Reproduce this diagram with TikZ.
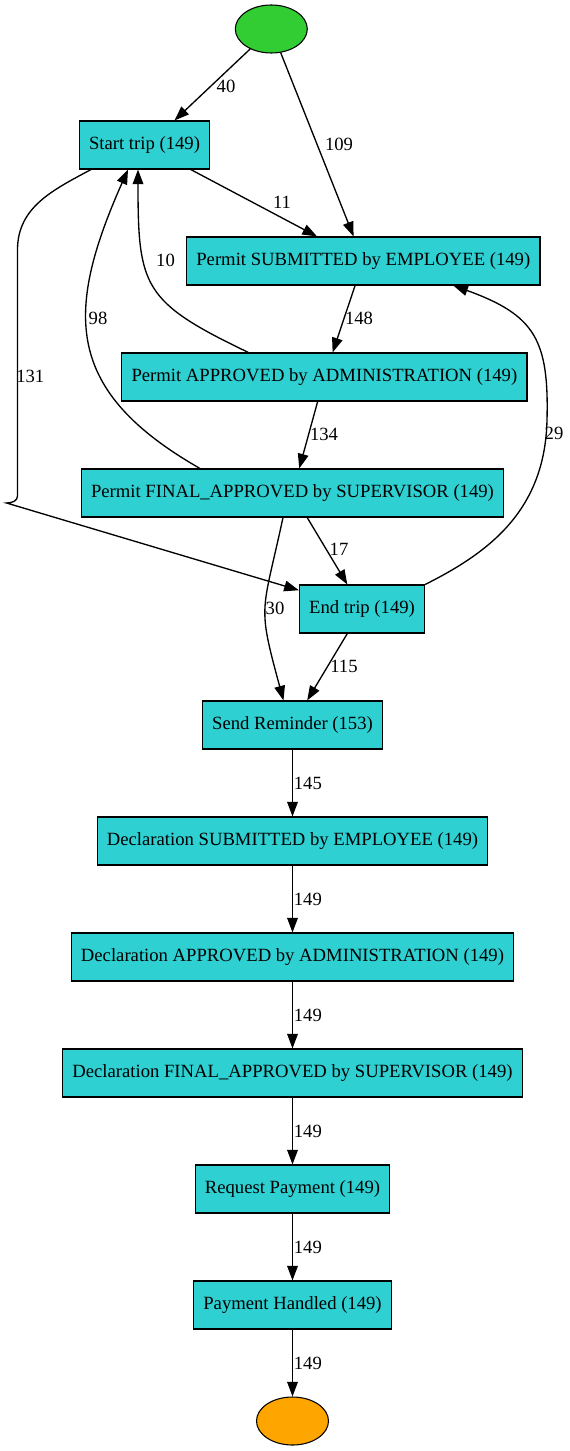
\documentclass[tikz,border=0pt]{standalone}
\usepackage{fontspec}
\setmainfont{Liberation Serif}
\usetikzlibrary{arrows.meta,shapes.geometric,calc}
\definecolor{actfill}{RGB}{46,208,210}
\definecolor{startfill}{RGB}{50,205,50}
\definecolor{endfill}{RGB}{255,165,0}
\begin{document}
\begin{tikzpicture}[x=0.75pt,y=-0.75pt,
    font=\fontsize{14pt}{16pt}\selectfont,
    act/.style={draw, line width=0.8pt, fill=actfill, minimum height=36pt, inner xsep=7.3pt, inner ysep=0pt},
    ev/.style={draw, ellipse, line width=0.8pt, minimum width=54pt, minimum height=36pt, inner sep=0pt},
    edge/.style={-{Triangle[length=11pt,width=8pt]}, line width=1pt},
    lbl/.style={inner sep=0.5pt}]
    \useasboundingbox (0,0) rectangle (570,1451);
    % start and end events
    \node[ev, fill=startfill] (start) at (271.3,29) {};
    \node[ev, fill=endfill] (stop) at (292.5,1421) {};
    % activities
    \node[act] (trip) at (144.5,145) {Start trip (149)};
    \node[act] (sub) at (363.3,261) {Permit SUBMITTED by EMPLOYEE (149)};
    \node[act] (appr) at (324.4,377) {Permit APPROVED by ADMINISTRATION (149)};
    \node[act] (final) at (292.5,493) {Permit FINAL\_APPROVED by SUPERVISOR (149)};
    \node[act] (endt) at (362,609) {End trip (149)};
    \node[act] (send) at (292.5,725) {Send Reminder (153)};
    \node[act] (dsub) at (292.5,841) {Declaration SUBMITTED by EMPLOYEE (149)};
    \node[act] (dappr) at (292.5,957) {Declaration APPROVED by ADMINISTRATION (149)};
    \node[act] (dfinal) at (292.5,1073) {Declaration FINAL\_APPROVED by SUPERVISOR (149)};
    \node[act] (req) at (292.5,1189) {Request Payment (149)};
    \node[act] (pay) at (292.5,1305) {Payment Handled (149)};
    % straight edges
    \draw[edge] (start) -- ($(trip.north)+(30,0)$);
    \draw[edge] (start) -- (sub);
    \draw[edge] (trip) -- (sub);
    \draw[edge] (sub) -- (appr);
    \draw[edge] (appr) -- (final);
    \draw[edge] (final) -- (endt);
    \draw[edge] (endt) -- (send);
    \node[lbl] (l40) at (226,86) {40};
    \node[lbl] (l109) at (339,144) {109};
    \node[lbl] (l11) at (282,202) {11};
    \node[lbl] (l148) at (359,318) {148};
    \node[lbl] (l134) at (324,434) {134};
    \node[lbl] (l17) at (339,549) {17};
    \node[lbl] (l115) at (344,666) {115};
    % curved edges
    \draw[edge] ($(appr.north)+(-76,0)$) .. controls (143,302) and (138,287) .. ($(trip.south)+(-6.5,0)$);
    \draw[edge] ($(final.north)+(-92.5,0)$) .. controls (64.5,391) and (64.3,313) .. ($(trip.south)+(-16.5,0)$);
    \draw[edge] ($(trip.south)+(-53.5,0)$) .. controls (53,190) and (17.5,207) .. (17.5,250)
        -- (17.5,496) .. controls (17.5,501) and (12,503) .. (6.5,503) -- (endt);
    \draw[edge] ($(final.south)+(-9.5,0)$) .. controls (262,615) and (257,603) .. ($(send.north)+(-9,0)$);
    \draw[edge] (endt.north east) .. controls (490,552) and (545,510) .. (547,420)
        .. controls (549,340) and (535,315) .. ($(sub.south)+(90,0)$);
    \node[lbl] (l10) at (165.5,260) {10};
    \node[lbl] (l98) at (98,318) {98};
    \node[lbl] (l131) at (30.3,376) {131};
    \node[lbl] (l30) at (275,608) {30};
    \node[lbl] (l29) at (554,433) {29};
    % main chain
    \foreach \a/\b/\n in {send/dsub/145, dsub/dappr/149, dappr/dfinal/149,
        dfinal/req/149, req/pay/149, pay/stop/149}
        \draw[edge] (\a) -- node[lbl, right] {\n} (\b);
\end{tikzpicture}
\end{document}
